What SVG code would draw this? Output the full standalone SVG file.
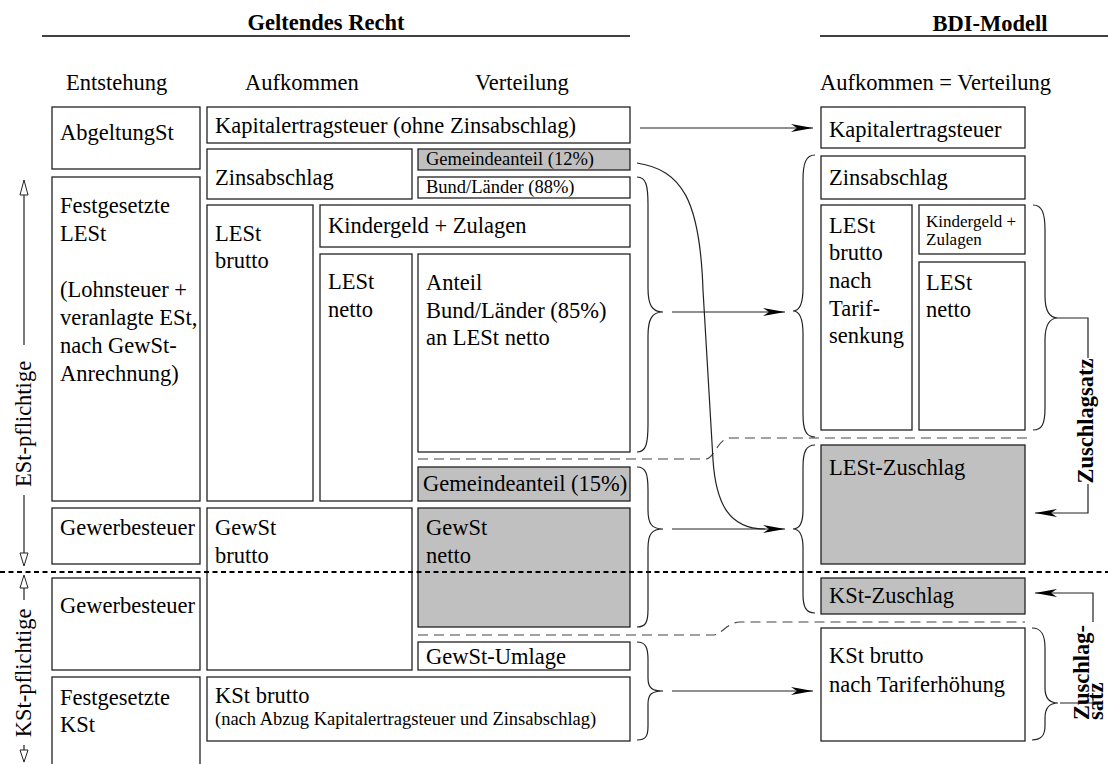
<svg xmlns="http://www.w3.org/2000/svg" width="1108" height="764" viewBox="0 0 1108 764">
<defs>
<style>
.box{fill:#fff;stroke:#222;stroke-width:1.3}
.gray{fill:#c0c0c0}
text{font-family:"Liberation Serif","Times New Roman",serif;font-size:22.5px;fill:#000}
.s{font-size:18.5px}
.xs{font-size:17px}
.b{font-weight:bold}
.ln{fill:none;stroke:#222;stroke-width:1.2}
.dash{stroke-dasharray:10 6;stroke:#444}
.dot{stroke-width:2;stroke-dasharray:5 3.5;stroke:#000}
.open{fill:#fff;stroke:#222;stroke-width:1}
</style>
<marker id="ah" viewBox="0 0 22 8" refX="22" refY="4" markerWidth="22" markerHeight="8" markerUnits="userSpaceOnUse" orient="auto">
<path d="M0,0 L22,4 L0,8 L6,4 Z" fill="#000"/>
</marker>
</defs>

<g id="headers">
<text x="326" y="30" class="b" text-anchor="middle">Geltendes Recht</text>
<line x1="42" y1="36" x2="630" y2="36" stroke="#000" stroke-width="1.3"/>
<text x="990" y="31" class="b" text-anchor="middle">BDI-Modell</text>
<line x1="820" y1="36" x2="1108" y2="36" stroke="#000" stroke-width="1.3"/>
<text x="66" y="90">Entstehung</text>
<text x="245" y="90">Aufkommen</text>
<text x="475" y="90">Verteilung</text>
<text x="820" y="90">Aufkommen = Verteilung</text>
</g>

<g id="side-labels">
<polygon class="open" points="24,180 20,195 28,195"/>
<line class="ln" x1="24" y1="195" x2="24" y2="345"/>
<text transform="translate(31,424) rotate(-90)" text-anchor="middle">ESt-pflichtige</text>
<line class="ln" x1="24" y1="495" x2="24" y2="553"/>
<polygon class="open" points="24,566 20,553 28,553"/>
<polygon class="open" points="24,575 20,588 28,588"/>
<line class="ln" x1="24" y1="588" x2="24" y2="600"/>
<text transform="translate(31,673) rotate(-90)" text-anchor="middle">KSt-pflichtige</text>
<line class="ln" x1="24" y1="745" x2="24" y2="750"/>
<polygon class="open" points="24,762 20,750 28,750"/>
</g>

<g id="n-abgeltung"><rect class="box" x="52" y="107" width="148" height="62"/><text x="60" y="140">AbgeltungSt</text></g>
<g id="n-festlest"><rect class="box" x="52" y="177" width="148" height="324"/>
<text x="60" y="213">Festgesetzte</text><text x="60" y="241">LESt</text>
<text x="60" y="297">(Lohnsteuer +</text><text x="60" y="325">veranlagte ESt,</text><text x="60" y="353">nach GewSt-</text><text x="60" y="381">Anrechnung)</text></g>
<g id="n-gew1"><rect class="box" x="52" y="508" width="148" height="56"/><text x="60" y="535">Gewerbesteuer</text></g>
<g id="n-gew2"><rect class="box" x="52" y="578" width="148" height="92"/><text x="60" y="613">Gewerbesteuer</text></g>
<g id="n-festkst"><rect class="box" x="52" y="677" width="148" height="100"/><text x="60" y="705">Festgesetzte</text><text x="60" y="732">KSt</text></g>

<g id="n-kapest"><rect class="box" x="207" y="107" width="423" height="36"/><text x="215" y="133">Kapitalertragsteuer (ohne Zinsabschlag)</text></g>
<g id="n-zins"><rect class="box" x="207" y="149" width="205" height="50"/><text x="215" y="185">Zinsabschlag</text></g>
<g id="n-gem12"><rect class="box gray" x="418" y="149" width="212" height="21"/><text class="s" x="426" y="165">Gemeindeanteil (12%)</text></g>
<g id="n-bl88"><rect class="box" x="418" y="177" width="212" height="21"/><text class="s" x="426" y="193">Bund/Länder (88%)</text></g>
<g id="n-lestbrutto"><rect class="box" x="207" y="205" width="106" height="296"/><text x="215" y="241">LESt</text><text x="215" y="268">brutto</text></g>
<g id="n-kinder"><rect class="box" x="320" y="205" width="310" height="42"/><text x="328" y="233">Kindergeld + Zulagen</text></g>
<g id="n-lestnetto"><rect class="box" x="320" y="254" width="92" height="247"/><text x="328" y="289">LESt</text><text x="328" y="317">netto</text></g>
<g id="n-anteil"><rect class="box" x="418" y="254" width="212" height="198"/><text x="426" y="290">Anteil</text><text x="426" y="318">Bund/Länder (85%)</text><text x="426" y="345">an LESt netto</text></g>
<g id="n-gem15"><rect class="box gray" x="418" y="467" width="212" height="34"/><text x="423" y="491">Gemeindeanteil (15%)</text></g>
<g id="n-gewbrutto"><rect class="box" x="207" y="508" width="205" height="162"/><text x="215" y="535">GewSt</text><text x="215" y="563">brutto</text></g>
<g id="n-gewnetto"><rect class="box gray" x="418" y="508" width="212" height="119"/><text x="426" y="535">GewSt</text><text x="426" y="563">netto</text></g>
<g id="n-umlage"><rect class="box" x="418" y="642" width="212" height="28"/><text x="426" y="664">GewSt-Umlage</text></g>
<g id="n-kstbrutto"><rect class="box" x="207" y="677" width="423" height="64"/><text x="215" y="703">KSt brutto</text><text class="s" x="215" y="725">(nach Abzug Kapitalertragsteuer und Zinsabschlag)</text></g>

<g id="r-kapest"><rect class="box" x="821" y="107" width="204" height="41"/><text x="829" y="137">Kapitalertragsteuer</text></g>
<g id="r-zins"><rect class="box" x="821" y="156" width="204" height="43"/><text x="829" y="185">Zinsabschlag</text></g>
<g id="r-lestbrutto"><rect class="box" x="821" y="205" width="91" height="225"/>
<text x="829" y="233">LESt</text><text x="829" y="260">brutto</text><text x="829" y="288">nach</text><text x="829" y="316">Tarif-</text><text x="829" y="343">senkung</text></g>
<g id="r-kinder"><rect class="box" x="919" y="205" width="106" height="49"/><text class="xs" x="926" y="227">Kindergeld +</text><text class="xs" x="926" y="245">Zulagen</text></g>
<g id="r-lestnetto"><rect class="box" x="919" y="262" width="106" height="168"/><text x="926" y="290">LESt</text><text x="926" y="317">netto</text></g>
<g id="r-lestzu"><rect class="box gray" x="821" y="445" width="204" height="119"/><text x="829" y="475">LESt-Zuschlag</text></g>
<g id="r-kstzu"><rect class="box gray" x="821" y="578" width="204" height="36"/><text x="829" y="603">KSt-Zuschlag</text></g>
<g id="r-kstbrutto"><rect class="box" x="821" y="628" width="204" height="113"/><text x="829" y="663">KSt brutto</text><text x="829" y="692">nach Tariferhöhung</text></g>

<g id="connectors">
<line class="ln dot" x1="0" y1="572" x2="1108" y2="572"/>
<path class="ln dash" d="M418,459 H706 C714,459 718,438 730,438 H1027"/>
<path class="ln dash" d="M418,635 H713 C721,635 728,622 740,622 H1025"/>

<path class="ln" d="M637,177 C646,177 648,185 648,205 V288 C648,305 652,312 663,312 C652,312 648,319 648,336 V424 C648,444 646,452 637,452"/>
<path class="ln" d="M637,467 C646,467 648,474 648,490 V510 C648,524 652,529 663,529 C652,529 648,534 648,548 V609 C648,622 646,627 637,627"/>
<path class="ln" d="M637,642 C646,642 648,648 648,660 V678 C648,688 652,691 663,691 C652,691 648,694 648,704 V726 C648,736 646,740 637,740"/>
<path class="ln" d="M815,155 C806,155 803,163 803,180 V288 C803,305 799,311 793,311 C799,311 803,317 803,334 V414 C803,430 806,437 815,437"/>
<path class="ln" d="M815,445 C806,445 803,452 803,467 V510 C803,524 799,529 793,529 C799,529 803,534 803,548 V594 C803,607 806,613 815,613"/>
<path class="ln" d="M1033,205 C1042,205 1045,213 1045,230 V296 C1045,312 1050,318 1058,318 C1050,318 1045,324 1045,340 V408 C1045,424 1042,430 1033,430"/>
<path class="ln" d="M1032,628 C1041,628 1045,634 1045,648 V688 C1045,699 1050,703 1058,703 C1050,703 1045,707 1045,718 V726 C1045,736 1041,740 1032,740"/>

<line class="ln" x1="640" y1="128" x2="813" y2="128" marker-end="url(#ah)"/>
<line class="ln" x1="672" y1="312" x2="785" y2="312" marker-end="url(#ah)"/>
<line class="ln" x1="672" y1="529" x2="785" y2="529" marker-end="url(#ah)"/>
<line class="ln" x1="672" y1="691" x2="813" y2="691" marker-end="url(#ah)"/>
<path class="ln" d="M637,163 C682,170 700,200 703,290 L713,460 C716,505 730,529 765,529"/>

<path class="ln" d="M1058,318 H1088 V358"/>
<path class="ln" d="M1088,484 V513 H1035" marker-end="url(#ah)"/>
<text class="b" transform="translate(1093,421) rotate(-90)" text-anchor="middle">Zuschlagsatz</text>

<path class="ln" d="M1060,703 H1093 V699"/>
<path class="ln" d="M1093,622 V593 H1035" marker-end="url(#ah)"/>
<text class="b" transform="translate(1089,720) rotate(-90)">Zuschlag-</text>
<text class="b" transform="translate(1103,720) rotate(-90)">satz</text>
</g>
</svg>
